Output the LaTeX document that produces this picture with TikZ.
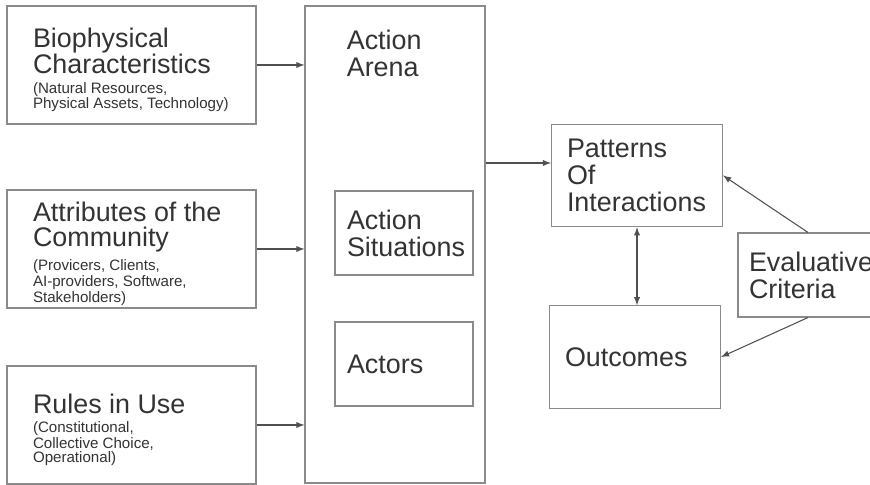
\documentclass[tikz,border=0pt]{standalone}
\usepackage{fontspec}
\setmainfont{Liberation Sans}
\definecolor{linegray}{HTML}{8A8A8A}
\definecolor{textgray}{HTML}{333333}
\definecolor{arrowgray}{HTML}{505050}
\newcommand{\bigtext}{\fontsize{15.3}{15.3}\selectfont}
\newcommand{\lefttext}{\fontsize{15.3}{14.2}\selectfont}
\newcommand{\smalltext}{\fontsize{8.6}{8}\selectfont}
\newcommand{\textdown}{\par\vspace{-5.5pt}}

\begin{document}
\begin{tikzpicture}
    [>=latex,
    box/.style={draw=linegray, line width=0.6pt, text=textgray, font=\bigtext, align=flush left, inner ysep=0pt},
    leftbox/.style={box, font=\lefttext, minimum width=4.98cm, minimum height=2.36cm, text width=4.3cm,
        inner xsep=0.34cm, execute at begin node={\leftskip=0.18cm},
        execute at end node=\textdown},
    innerbox/.style={box, minimum width=2.76cm, minimum height=1.68cm, text width=2.28cm, inner xsep=0.24cm},
    resultbox/.style={box, minimum width=3.4cm, minimum height=2.05cm, text width=2.8cm, inner xsep=0.31cm},
    link/.style={->, draw=arrowgray, line width=0.6pt}]

    \useasboundingbox (0,0) rectangle (17.4,9.7);

    % linke Spalte
    \node[leftbox] (bio) at (2.63,8.4) {Biophysical\\Characteristics\par\vspace{3pt}
        {\smalltext (Natural Resources,\\Physical Assets, Technology)\par}};
    \node[leftbox] (com) at (2.63,4.72) {Attributes of the\\Community\par\vspace{3pt}
        {\smalltext (Provicers, Clients,\\AI-providers, Software,\\Stakeholders)\par}};
    \node[leftbox] (rules) at (2.63,1.2) {Rules in Use\par\vspace{3pt}
        {\smalltext (Constitutional,\\Collective Choice,\\Operational)\par}};

    % Action Arena
    \node[box, minimum width=3.6cm, minimum height=9.54cm] (arena) at (7.9,4.81) {};
    \node[text=textgray, font=\bigtext, align=left, anchor=north west, inner sep=0pt]
        (arenatitle) at ([shift={(0.84,-0.48)}]arena.north west) {Action\\Arena};
    \node[innerbox] (sit) at (8.08,5.04) {Action\\Situations};
    \node[innerbox] (act) at (8.08,2.42) {Actors};

    % rechte Seite
    \node[resultbox] (pat) at (12.74,6.19) {Patterns\\Of\\Interactions};
    \node[resultbox] (out) at (12.7,2.56) {Outcomes};
    \node[box, minimum width=2.96cm, minimum height=1.68cm, text width=2.6cm, inner xsep=0.22cm]
        (eval) at (16.28,4.2) {Evaluative\\Criteria};

    % Pfeile
    \draw[link] (bio.east) -- (bio.east -| arena.west);
    \draw[link] (com.east) -- (com.east -| arena.west);
    \draw[link] (rules.east) -- (rules.east -| arena.west);
    \coordinate (patin) at ([yshift=0.25cm]pat.west);
    \draw[link] (arena.east |- patin) -- (patin);
    \draw[link, <->] (pat.south) -- (pat.south |- out.north);
    \draw[link] ([xshift=-0.12cm]eval.north) -- (pat.east);
    \draw[link] ([xshift=-0.12cm]eval.south) -- (out.east);
\end{tikzpicture}
\end{document}
